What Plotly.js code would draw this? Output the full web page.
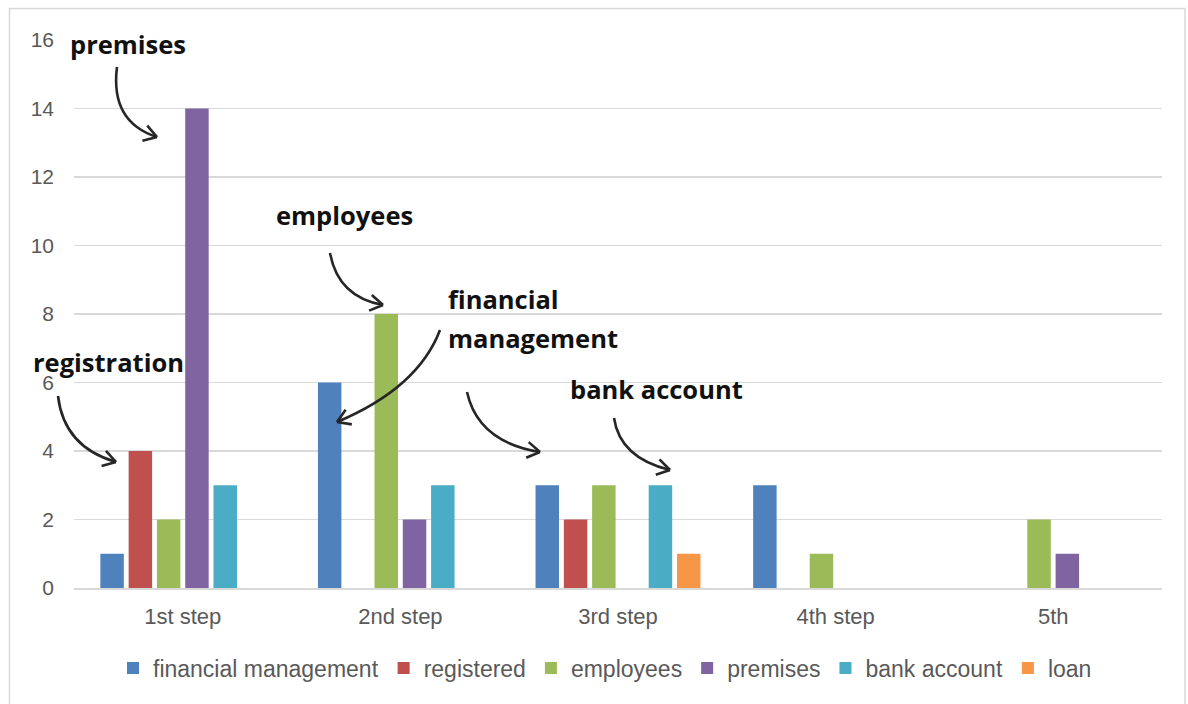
<!DOCTYPE html>
<html><head><meta charset="utf-8">
<script src="https://cdn.plot.ly/plotly-3.0.1.min.js"></script>
<style>html,body{margin:0;padding:0;background:#fff}#chart{width:1188px;height:704px}</style>
</head><body><div id="chart"></div>
<script>
const categories = ['1st step', '2nd step', '3rd step', '4th step', '5th'];
const financialManagement = [1, 6, 3, 3, 0];
const registered = [4, 0, 2, 0, 0];
const employees = [2, 8, 3, 1, 2];
const premises = [14, 2, 0, 0, 1];
const bankAccount = [3, 3, 3, 0, 0];
const loan = [0, 0, 1, 0, 0];
const seriesNames = ['financial management', 'registered', 'employees', 'premises', 'bank account', 'loan'];
const seriesValues = [financialManagement, registered, employees, premises, bankAccount, loan];
const seriesColors = ['#4f81bd', '#c0504d', '#9bbb59', '#8064a2', '#4bacc6', '#f79646'];
const yTicks = [0, 2, 4, 6, 8, 10, 12, 14, 16];

const W = 1188, H = 704, L = 74, R = 26, T = 40, B = 116;
const pw = W - L - R, ph = H - T - B;
const px = x => (x - L) / pw;
const py = y => (H - B - y) / ph;

const traces = seriesNames.map((n, i) => ({
  type: 'bar', name: n, x: categories, y: seriesValues[i],
  marker: {color: seriesColors[i], line: {width: 0}},
  hoverinfo: 'x+y+name'
}));

// callout labels
const callouts = [
  {text: 'premises', x: 68, y: 44},
  {text: 'registration', x: 31, y: 362},
  {text: 'employees', x: 274, y: 215},
  {text: 'financial', x: 446, y: 299},
  {text: 'management', x: 446, y: 338},
  {text: 'bank account', x: 568, y: 389}
];
const annFont = {family: 'Open Sans, Lato, sans-serif', size: 25.5, color: '#111111', weight: 700};
const annotations = callouts.map(c => ({
  xref: 'paper', yref: 'paper', x: px(c.x), y: py(c.y), xanchor: 'left', yanchor: 'middle',
  text: '<b>' + c.text + '</b>', showarrow: false, font: annFont
}));

// hand-drawn style curved arrows: [start, control, end] in pixel space
const arrowCurves = [
  [[117, 67], [110, 122], [157, 137]],
  [[58, 396], [64, 447], [116, 462]],
  [[330, 253], [338, 297], [383, 305]],
  [[440, 330], [418, 388], [337, 422]],
  [[467, 392], [478, 442], [540, 452]],
  [[614, 418], [620, 458], [670, 470]]
];
const shapes = [];
const arrowLine = {color: '#262626', width: 2.6};
arrowCurves.forEach(a => {
  const [s, c, e] = a;
  shapes.push({type: 'path', xref: 'paper', yref: 'paper', line: arrowLine,
    path: `M ${px(s[0])},${py(s[1])} Q ${px(c[0])},${py(c[1])} ${px(e[0])},${py(e[1])}`});
  const dx = e[0] - c[0], dy = e[1] - c[1];
  const len = Math.hypot(dx, dy), ux = dx / len, uy = dy / len;
  const hl = 15, ang = 32 * Math.PI / 180;
  [ang, -ang].forEach(t => {
    const rx = ux * Math.cos(t) - uy * Math.sin(t);
    const ry = ux * Math.sin(t) + uy * Math.cos(t);
    shapes.push({type: 'line', xref: 'paper', yref: 'paper', line: arrowLine,
      x0: px(e[0] - rx * hl), y0: py(e[1] - ry * hl), x1: px(e[0]), y1: py(e[1])});
  });
});
// outer chart border
shapes.push({type: 'rect', xref: 'paper', yref: 'paper', line: {color: '#d9d9d9', width: 1.5},
  x0: px(9.5), y0: py(720), x1: px(1185), y1: py(8.5), layer: 'below'});

const tickFont = {family: 'Liberation Sans, Arial, sans-serif', size: 21, color: '#595959'};
const layout = {
  width: W, height: H,
  margin: {l: L, r: R, t: T, b: B},
  paper_bgcolor: '#ffffff', plot_bgcolor: '#ffffff',
  barmode: 'group', bargap: 0.22, bargroupgap: 0.17,
  showlegend: true,
  legend: {orientation: 'h', x: px(605), xanchor: 'center', y: py(668), yanchor: 'middle',
    font: {family: 'Liberation Sans, Arial, sans-serif', size: 23, color: '#595959'},
    traceorder: 'normal', itemclick: false},
  xaxis: {type: 'category', tickfont: Object.assign({}, tickFont, {size: 22}), showgrid: false, zeroline: false,
    showline: true, linecolor: '#d9d9d9', linewidth: 1.5, ticks: '', ticklabelstandoff: 8},
  yaxis: {range: [0, 16], tickvals: yTicks, tickfont: tickFont, showgrid: true,
    gridcolor: '#d9d9d9', gridwidth: 1.5, zeroline: false, showline: false, ticks: '',
    ticklabelstandoff: 19},
  annotations: annotations,
  shapes: shapes
};
Plotly.newPlot('chart', traces, layout, {displayModeBar: false, staticPlot: true});
</script>
</body></html>
